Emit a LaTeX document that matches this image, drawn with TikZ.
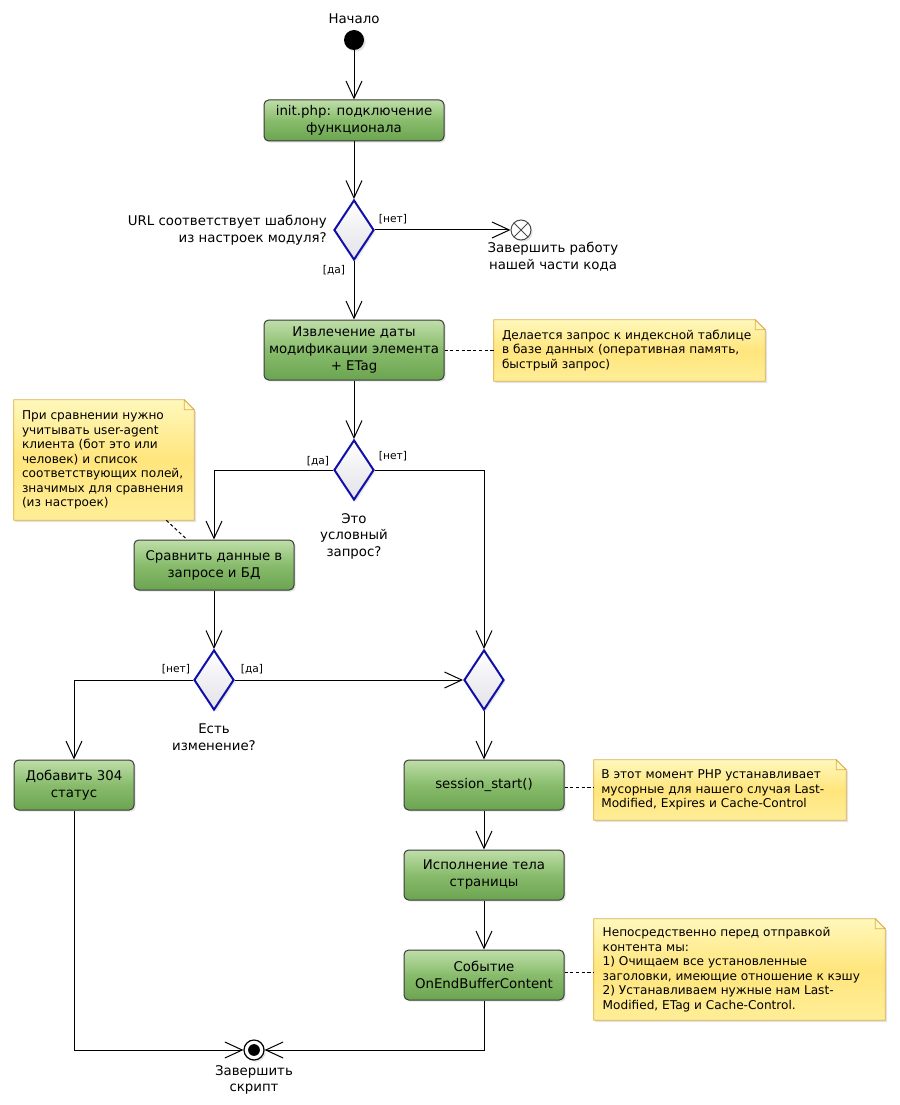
\documentclass[tikz,border=0pt]{standalone}
\usepackage{fontspec}
\setmainfont{DejaVu Sans}
\usetikzlibrary{arrows.meta,shapes.geometric,shadows,calc}

\definecolor{actTop}{HTML}{BFDEA9}
\definecolor{actMid}{HTML}{88BC6C}
\definecolor{actBot}{HTML}{6BA450}
\definecolor{actLine}{HTML}{3A3A3A}
\definecolor{noteTop}{HTML}{FFF8BC}
\definecolor{noteMid}{HTML}{FFE57C}
\definecolor{noteBot}{HTML}{FFEE98}
\definecolor{noteLine}{HTML}{DDAE50}
\definecolor{decLine}{HTML}{1010A8}
\definecolor{decFill}{HTML}{E2E2E8}

\newcommand\notebg[1]{%
  \path[notebody] (#1.south west) -- (#1.north west) -- ([xshift=-7.5pt]#1.north east)
     -- ([yshift=-7.5pt]#1.north east) -- (#1.south east) -- cycle;
  \draw[draw=noteLine, line width=0.6pt, fill=noteTop]
     ([xshift=-7.5pt]#1.north east) -- ([xshift=-7.5pt,yshift=-7.5pt]#1.north east)
     -- ([yshift=-7.5pt]#1.north east) -- cycle;}

\begin{document}
\begin{tikzpicture}[x=0.75pt,y=-0.75pt,
  shadowed/.style={drop shadow={opacity=0.22,shadow xshift=1.3pt,shadow yshift=-1.3pt}},
  action/.style={rectangle, rounded corners=3.5pt, draw=actLine, line width=0.75pt,
     top color=actTop, bottom color=actBot, middle color=actMid, shadowed,
     align=center, font=\fontsize{10}{12.75}\selectfont, inner sep=0pt},
  decision/.style={diamond, draw=decLine, line width=1.5pt, top color=white, bottom color=decFill,
     minimum width=30pt, minimum height=45pt, inner sep=0pt, shadowed},
  notebox/.style={rectangle, draw=none, inner sep=0pt},
  notebody/.style={draw=noteLine, line width=0.6pt, top color=noteTop, bottom color=noteBot,
     middle color=noteMid, shadowed},
  notetext/.style={anchor=west, align=left, inner sep=0pt, font=\fontsize{9.1}{10.9}\selectfont},
  txt/.style={align=center, inner sep=0pt, font=\fontsize{10}{12.4}\selectfont},
  lbl/.style={inner sep=0pt, font=\fontsize{8}{10}\selectfont},
  flow/.style={line width=0.75pt},
  arr/.style={flow, -{Straight Barb[length=13pt,width=12pt,line width=0.75pt]}},
  dashline/.style={line width=0.75pt, dash pattern=on 2.4pt off 1.9pt},
  startnode/.style={circle, fill=black, minimum size=15pt, inner sep=0pt, shadowed},
  xnode/.style={circle, draw=black!70, line width=0.75pt, fill=white, minimum size=15pt, inner sep=0pt, shadowed,
     path picture={\draw[line width=0.75pt] (path picture bounding box.south west) -- (path picture bounding box.north east)
        (path picture bounding box.north west) -- (path picture bounding box.south east);}},
  finalnode/.style={circle, draw=black, line width=0.9pt, fill=white, minimum size=15pt, inner sep=0pt, shadowed}
]
\useasboundingbox (0,0) rectangle (899,1105);

% texts
\node[txt] (tstart) at (354,19) {Начало};
\node[startnode] (start) at (354,40) {};

\node[action, minimum width=135pt, minimum height=30.75pt] (b1) at (354,120.5) {init.php: подключение\\функционала};

\node[decision] (d1) at (354,230) {};
\node[txt, anchor=east, align=right] (q1) at (327,230) {URL соответствует шаблону\\из настроек модуля?};
\node[xnode] (xend) at (521,230) {};
\node[txt] (txend) at (553,257) {Завершить работу\\нашей части кода};
\node[lbl] (l1) at (393,219) {[нет]};
\node[lbl] (l2) at (334,270) {[да]};

\node[action, minimum width=135pt, minimum height=45pt] (b2) at (354,350) {Извлечение даты\\модификации элемента\\+ ETag};

\node[notebox, minimum width=203.25pt, minimum height=45.75pt] (n1) at (629.5,350.5) {};
\notebg{n1}
\node[notetext] (n1t) at ([xshift=6pt]n1.west) {Делается запрос к индексной таблице\\в базе данных (оперативная память,\\быстрый запрос)};

\node[decision] (d2) at (354,470) {};
\node[txt] (q2) at (354,536) {Это\\условный\\запрос?};
\node[lbl] (l3) at (318,461) {[да]};
\node[lbl] (l4) at (393,456) {[нет]};

\node[notebox, minimum width=135pt, minimum height=90pt] (n2) at (104,460) {};
\notebg{n2}
\node[notetext] (n2t) at ([xshift=6pt]n2.west) {При сравнении нужно\\учитывать user-agent\\клиента (бот это или\\человек) и список\\соответствующих полей,\\значимых для сравнения\\(из настроек)};

\node[action, minimum width=120pt, minimum height=37.5pt] (b3) at (214,565) {Сравнить данные в\\запросе и БД};

\node[decision] (d3) at (214,680) {};
\node[txt] (q3) at (214,737) {Есть\\изменение?};
\node[lbl] (l5) at (176,669) {[нет]};
\node[lbl] (l6) at (252,669) {[да]};

\node[decision] (d4) at (484,680) {};

\node[action, minimum width=90pt, minimum height=37.5pt] (b4) at (74,785) {Добавить 304\\статус};
\node[action, minimum width=120pt, minimum height=37.5pt] (b5) at (484,785) {session\_start()};

\node[notebox, minimum width=189pt, minimum height=45pt] (n3) at (720,790) {};
\notebg{n3}
\node[notetext] (n3t) at ([xshift=5.5pt]n3.west) {В этот момент PHP устанавливает\\мусорные для нашего случая Last-\\Modified, Expires и Cache-Control};

\node[action, minimum width=120pt, minimum height=37.5pt] (b6) at (484,875) {Исполнение тела\\страницы};
\node[action, minimum width=120pt, minimum height=37.5pt] (b7) at (484,975) {Событие\\OnEndBufferContent};

\node[notebox, minimum width=218.25pt, minimum height=75.75pt] (n4) at (739.5,969.5) {};
\notebg{n4}
\node[notetext] (n4t) at ([xshift=6.5pt]n4.west) {Непосредственно перед отправкой\\контента мы:\\1) Очищаем все установленные\\заголовки, имеющие отношение к кэшу\\2) Устанавливаем нужные нам Last-\\Modified, ETag и Cache-Control.};

\node[finalnode] (fin) at (254,1050) {};
\fill[black] (fin.center) circle (4.4pt);
\node[txt] (tfin) at (254,1080) {Завершить\\скрипт};

% connectors
\draw[arr] (start) -- (b1);
\draw[arr] (b1) -- (d1);
\draw[arr] (d1.east) -- (xend);
\draw[arr] (d1) -- (b2);
\draw[dashline] (b2.east) -- (b2.east -| n1.west);
\draw[arr] (b2) -- (d2);
\draw[arr] (d2.west) -| (b3.north);
\draw[arr] (d2.east) -| (d4.north);
\draw[dashline] ([xshift=-21pt]n2.south east) -- ([xshift=-20.25pt]b3.north);
\draw[arr] (b3) -- (d3);
\draw[arr] (d3.west) -| (b4.north);
\draw[arr] (d3.east) -- (d4.west);
\draw[arr] (d4) -- (b5);
\draw[dashline] ([yshift=-1.5pt]b5.east) -- ([yshift=-1.5pt]b5.east -| n3.west);
\draw[arr] (b5) -- (b6);
\draw[arr] (b6) -- (b7);
\draw[dashline] ([yshift=2pt]b7.east) -- ([yshift=2pt]b7.east -| n4.west);
\draw[arr] (b4.south) |- (fin.west);
\draw[arr] (b7.south) |- (fin.east);
\end{tikzpicture}
\end{document}
